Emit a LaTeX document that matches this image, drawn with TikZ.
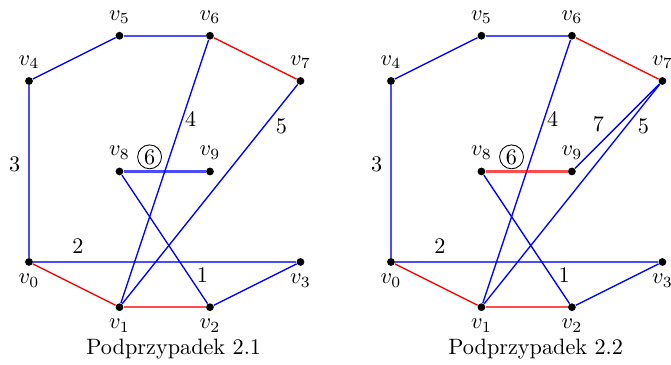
\documentclass[tikz,border=0pt]{standalone}
\usepackage{amsmath}
\usepackage{xcolor}
\usepackage{tikz}
\usetikzlibrary{positioning}

\begin{document}
\begin{tikzpicture}[
  x=0.715cm, y=0.715cm,
  vtx/.style={circle, fill=black, inner sep=0pt, minimum size=3.5pt},
  bl/.style={draw=blue, line width=0.6pt},
  rd/.style={draw=red, line width=0.6pt},
  hv/.style={line width=1.1pt, draw opacity=0.7},
  circ/.style={circle, draw=black, draw opacity=1, line width=0.4pt, inner sep=0.8pt},
]
\useasboundingbox (-0.641,-2.276) rectangle (14.19,5.79);

% Subcase 2.1
\begin{scope}
\foreach \n/\x/\y/\p in {0/0/0/below, 1/2/-1/below, 2/4/-1/below, 3/6/0/below,
  4/0/4/above, 5/2/5/above, 6/4/5/above, 7/6/4/above, 8/2/2/above, 9/4/2/above}
  \node[vtx, label={\p:$v_\n$}] (a\n) at (\x,\y) {};

% Edges
\draw[bl, hv] (a0) -- node[pos=0.54, left] {3} (a4);
\draw[bl] (a4) -- (a5);
\draw[bl, hv] (a5) -- (a6);
\draw[bl, hv] (a0) -- node[pos=0.17, above] {2} (a3);
\draw[bl] (a3) -- (a2);
\draw[bl] (a1) -- node[pos=0.7, right, inner sep=1pt] {4} (a6);
\draw[bl] (a1) -- node[pos=0.81, right=1.5pt] {5} (a7);
\draw[bl, hv] (a8) -- node[pos=0.315, above=1pt, circ] {6} (a9);
\draw[bl] (a8) -- node[pos=0.78, right] {1} (a2);
\draw[rd] (a6) -- (a7);
\draw[rd] (a0) -- (a1);
\draw[rd, hv] (a1) -- (a2);

\node[anchor=base] (capa) at (3.2,-2.055) {Podprzypadek 2.1};
\end{scope}

% Subcase 2.2
\begin{scope}[xshift=8*0.715cm]
\foreach \n/\x/\y/\p in {0/0/0/below, 1/2/-1/below, 2/4/-1/below, 3/6/0/below,
  4/0/4/above, 5/2/5/above, 6/4/5/above, 7/6/4/above, 8/2/2/above, 9/4/2/above}
  \node[vtx, label={\p:$v_\n$}] (b\n) at (\x,\y) {};

% Edges
\draw[bl, hv] (b0) -- node[pos=0.54, left] {3} (b4);
\draw[bl] (b4) -- (b5);
\draw[bl, hv] (b5) -- (b6);
\draw[bl, hv] (b0) -- node[pos=0.17, above] {2} (b3);
\draw[bl] (b3) -- (b2);
\draw[bl] (b1) -- node[pos=0.7, right, inner sep=1pt] {4} (b6);
\draw[bl] (b1) -- node[pos=0.81, right=1.5pt] {5} (b7);
\draw[bl] (b9) -- node[pos=0.52, left=3pt] {7} (b7);
\draw[rd, hv] (b8) -- node[pos=0.315, above=1pt, circ] {6} (b9);
\draw[bl] (b8) -- node[pos=0.78, right] {1} (b2);
\draw[rd] (b6) -- (b7);
\draw[rd] (b0) -- (b1);
\draw[rd, hv] (b1) -- (b2);

\node[anchor=base] (capb) at (3.2,-2.055) {Podprzypadek 2.2};
\end{scope}
\end{tikzpicture}
\end{document}
